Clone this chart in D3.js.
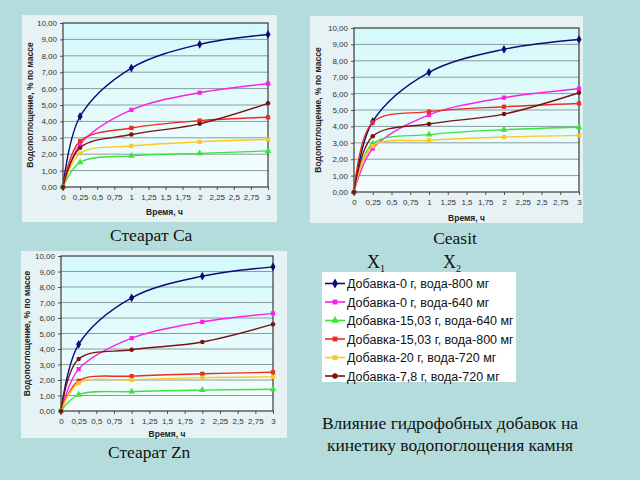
<!DOCTYPE html>
<html><head><meta charset="utf-8">
<script src="https://cdn.jsdelivr.net/npm/d3@7"></script>
<style>
html,body{margin:0;padding:0;background:#b4dcdc;}
svg{display:block;}
</style></head>
<body>
<svg id="c" width="640" height="480"></svg>
<script>
// ---------- DATA ----------
const times = [0, 0.25, 1, 2, 3];
const xTickValues = [0, 0.25, 0.5, 0.75, 1, 1.25, 1.5, 1.75, 2, 2.25, 2.5, 2.75, 3];
const xTickLabels = ["0", "0,25", "0,5", "0,75", "1", "1,25", "1,5", "1,75", "2", "2,25", "2,5", "2,75", "3"];
const yTickValues = [0, 1, 2, 3, 4, 5, 6, 7, 8, 9, 10];
const yTickLabels = ["0,00", "1,00", "2,00", "3,00", "4,00", "5,00", "6,00", "7,00", "8,00", "9,00", "10,00"];
const seriesNames = [
  "Добавка-0 г, вода-800 мг",
  "Добавка-0 г, вода-640 мг",
  "Добавка-15,03 г, вода-640 мг",
  "Добавка-15,03 г, вода-800 мг",
  "Добавка-20 г, вода-720 мг",
  "Добавка-7,8 г, вода-720 мг"
];
// values per series, same order as seriesNames
const stearatCa = [
  [0, 4.3, 7.25, 8.7, 9.3],
  [0, 2.6, 4.7, 5.75, 6.3],
  [0, 1.5, 1.9, 2.05, 2.2],
  [0, 2.8, 3.6, 4.05, 4.25],
  [0, 2.05, 2.5, 2.75, 2.9],
  [0, 2.4, 3.2, 3.85, 5.1]
];
const ceasit = [
  [0, 4.3, 7.3, 8.7, 9.3],
  [0, 2.65, 4.7, 5.75, 6.3],
  [0, 2.95, 3.5, 3.8, 3.95],
  [0, 4.25, 4.9, 5.2, 5.4],
  [0, 2.8, 3.15, 3.35, 3.45],
  [0, 3.4, 4.15, 4.75, 6.05]
];
const stearatZn = [
  [0, 4.3, 7.3, 8.7, 9.3],
  [0, 2.7, 4.7, 5.75, 6.3],
  [0, 1.05, 1.25, 1.35, 1.4],
  [0, 1.95, 2.25, 2.4, 2.5],
  [0, 1.8, 2.0, 2.15, 2.2],
  [0, 3.35, 3.95, 4.45, 5.6]
];
const xTitle = "Время, ч";
const yTitle = "Водопоглощение, % по массе";
const captions = ["Стеарат Ca", "Ceasit", "Стеарат Zn"];
const titleLines = ["Влияние гидрофобных добавок на", "кинетику водопоглощения камня"];

// ---------- STYLE ----------
const colors = ["#0a0a78", "#ff1ee6", "#3ee23e", "#ee2a22", "#ffc81e", "#7a1212"];
const symbols = [d3.symbolDiamond, d3.symbolSquare, d3.symbolTriangle, d3.symbolSquare, d3.symbolSquare, d3.symbolCircle];
const symSizes = [22, 18, 20, 18, 18, 16];

const svg = d3.select("#c");
const defs = svg.append("defs");
const grad = defs.append("linearGradient").attr("id", "pg").attr("x1", 0).attr("y1", 0).attr("x2", 0).attr("y2", 1);
grad.append("stop").attr("offset", "0%").attr("stop-color", "#d4f9fb");
grad.append("stop").attr("offset", "100%").attr("stop-color", "#f4fdfd");

function drawChart(values, cfg) {
  const g = svg.append("g");
  g.append("rect").attr("x", cfg.panel[0]).attr("y", cfg.panel[1])
    .attr("width", cfg.panel[2] - cfg.panel[0]).attr("height", cfg.panel[3] - cfg.panel[1])
    .attr("fill", "#e6f2f4");
  const x = d3.scaleLinear().domain([0, 3]).range([cfg.plot[0], cfg.plot[2]]);
  const y = d3.scaleLinear().domain([0, 10]).range([cfg.plot[3], cfg.plot[1]]);
  g.append("rect").attr("x", x(0)).attr("y", y(10))
    .attr("width", x(3) - x(0)).attr("height", y(0) - y(10)).attr("fill", "url(#pg)");
  // gridlines
  g.append("g").selectAll("line").data(yTickValues.slice(1, -1)).join("line")
    .attr("x1", x(0)).attr("x2", x(3)).attr("y1", d => y(d)).attr("y2", d => y(d))
    .attr("stroke", "#8a9c9c").attr("stroke-width", 1);
  // axes
  const yAxis = d3.axisLeft(y).tickValues(yTickValues).tickSize(3)
    .tickFormat((d, i) => yTickLabels[i]);
  const ya = g.append("g").attr("transform", `translate(${x(0)},0)`).call(yAxis);
  const xAxis = d3.axisBottom(x).tickValues(xTickValues).tickSize(3)
    .tickFormat((d, i) => xTickLabels[i]);
  const xa = g.append("g").attr("transform", `translate(0,${y(0)})`).call(xAxis);
  [ya, xa].forEach(a => {
    a.select(".domain").remove();
    a.selectAll(".tick line").attr("stroke", "#555");
    a.selectAll(".tick text").attr("fill", "#333").attr("font-family", "Liberation Sans, Arial, sans-serif")
      .attr("font-size", 8);
  });
  xa.selectAll(".tick text").attr("dy", cfg.xdy);
  // plot border
  g.append("rect").attr("x", x(0)).attr("y", y(10))
    .attr("width", x(3) - x(0)).attr("height", y(0) - y(10))
    .attr("fill", "none").attr("stroke", "#3a3a3a").attr("stroke-width", 1.2);
  // titles
  g.append("text").attr("x", (x(0) + x(3)) / 2 + cfg.xtDx).attr("y", cfg.xtY)
    .attr("text-anchor", "middle").attr("font-family", "Liberation Sans, Arial, sans-serif")
    .attr("font-size", 8.5).attr("font-weight", "bold").attr("fill", "#222").text(xTitle);
  g.append("text").attr("transform", `translate(${cfg.ytX},${(y(0) + y(10)) / 2}) rotate(-90)`)
    .attr("text-anchor", "middle").attr("font-family", "Liberation Sans, Arial, sans-serif")
    .attr("font-size", 8.5).attr("font-weight", "bold").attr("fill", "#222").text(yTitle);
  // lines
  const line = d3.line().x((d, i) => x(times[i])).y(d => y(d)).curve(d3.curveCatmullRom.alpha(0.5));
  values.forEach((vals, si) => {
    g.append("path").attr("d", line(vals)).attr("fill", "none")
      .attr("stroke", colors[si]).attr("stroke-width", 1.4);
  });
  values.forEach((vals, si) => {
    g.append("g").selectAll("path").data(vals).join("path")
      .attr("transform", (d, i) => `translate(${x(times[i])},${y(d)})`)
      .attr("d", d3.symbol().type(symbols[si]).size(symSizes[si]))
      .attr("fill", colors[si]);
  });
}

drawChart(stearatCa, {panel: [22, 15, 277, 222], plot: [63, 23, 268, 187], xdy: "0.9em", xtY: 215, xtDx: -1, ytX: 33});
drawChart(ceasit, {panel: [310, 16, 583, 223], plot: [354, 28, 579, 192], xdy: "0.9em", xtY: 221, xtDx: 0, ytX: 321});
drawChart(stearatZn, {panel: [21, 251, 287, 438], plot: [61, 256, 273, 411], xdy: "0.9em", xtY: 437, xtDx: 0, ytX: 30});

// captions
const serif = "Liberation Serif, Times New Roman, serif";
svg.append("text").attr("x", 110).attr("y", 241).attr("font-family", serif).attr("font-size", 17.5).attr("fill", "#111").text(captions[0]);
svg.append("text").attr("x", 455).attr("y", 244).attr("text-anchor", "middle").attr("font-family", serif).attr("font-size", 17.5).attr("fill", "#111").text(captions[1]);
svg.append("text").attr("x", 108).attr("y", 458).attr("font-family", serif).attr("font-size", 17.5).attr("fill", "#111").text(captions[2]);

// X1, X2
[[367, "1"], [443, "2"]].forEach(([px, sub]) => {
  const t = svg.append("text").attr("x", px).attr("y", 268).attr("font-family", serif).attr("font-size", 18).attr("fill", "#111");
  t.append("tspan").text("X");
  t.append("tspan").attr("font-size", 10).attr("dy", 4).text(sub);
});

// legend
const lg = svg.append("g");
lg.append("rect").attr("x", 322).attr("y", 272).attr("width", 194).attr("height", 110).attr("fill", "#fff");
const ly = d3.scalePoint().domain(seriesNames).range([283.5, 376]);
seriesNames.forEach((name, i) => {
  const yy = ly(name);
  lg.append("line").attr("x1", 325).attr("x2", 345).attr("y1", yy).attr("y2", yy).attr("stroke", colors[i]).attr("stroke-width", 1.6);
  lg.append("path").attr("transform", `translate(335,${yy})`).attr("d", d3.symbol().type(symbols[i]).size(symSizes[i] + 6)).attr("fill", colors[i]);
  lg.append("text").attr("x", 347).attr("y", yy).attr("dy", "0.36em").attr("font-family", "Liberation Sans, Arial, sans-serif")
    .attr("font-size", 12.5).attr("fill", "#111").text(name);
});

// title
titleLines.forEach((t, i) => {
  svg.append("text").attr("x", 450).attr("y", 429 + i * 22).attr("text-anchor", "middle").attr("font-family", serif)
    .attr("font-size", 17.5).attr("fill", "#111").text(t);
});
</script>
</body></html>
